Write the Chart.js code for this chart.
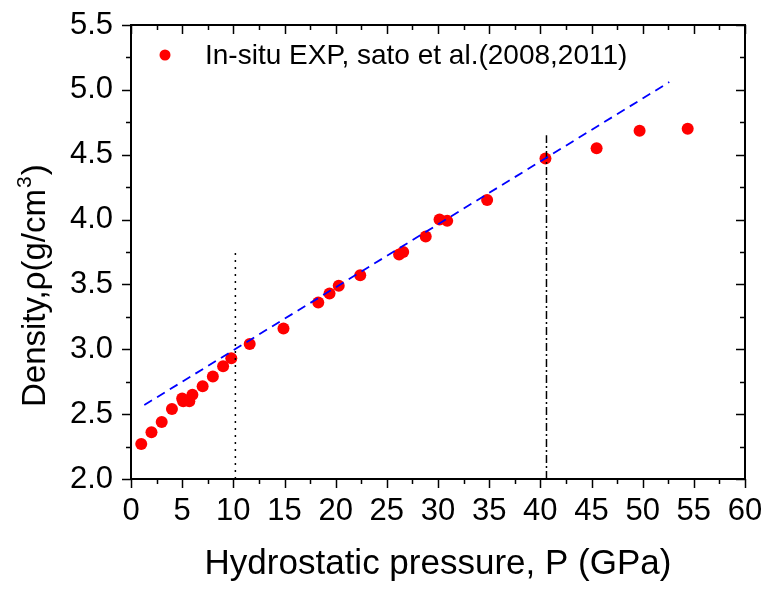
<!DOCTYPE html>
<html>
<head>
<meta charset="utf-8">
<script src="https://cdn.jsdelivr.net/npm/chart.js@4"></script>
<style>
  html, body { margin: 0; padding: 0; background: #fff; }
</style>
</head>
<body>
<canvas id="densityChart" width="764" height="590"></canvas>
<script>
// In-situ density vs hydrostatic pressure
const pressure = [1.0, 2.0, 3.0, 4.0, 5.0, 5.1, 5.7, 6.0, 7.0, 8.0, 9.0, 9.8, 11.6, 14.9,
  18.3, 19.4, 20.3, 22.4, 26.2, 26.6, 28.8, 30.15, 30.9, 34.8, 40.5, 45.5, 49.7, 54.4];
const density = [2.27, 2.36, 2.44, 2.54, 2.62, 2.60, 2.60, 2.65, 2.715, 2.79, 2.87, 2.93, 3.04, 3.16,
  3.36, 3.43, 3.49, 3.57, 3.73, 3.75, 3.87, 4.00, 3.99, 4.15, 4.47, 4.55, 4.685, 4.70];

// linear trend (blue dashed)
const fitX = [1.3, 52.6];
const fitY = [2.57, 5.06];

// vertical markers
const dotX = [10.2, 10.2];
const dotY = [2.0, 3.77];
const dashDotX = [40.6, 40.6];
const dashDotY = [2.0, 4.65];

const xTicks = [0, 5, 10, 15, 20, 25, 30, 35, 40, 45, 50, 55, 60];
const yTicks = [2.0, 2.5, 3.0, 3.5, 4.0, 4.5, 5.0, 5.5];

const toPoints = (xs, ys) => xs.map((v, i) => ({x: v, y: ys[i]}));

const FONT = "'Liberation Sans', Arial, sans-serif";

// frame, inner/outer ticks, legend and y title
const decor = {
  id: 'decor',
  afterDatasetsDraw(chart) {
    const {ctx, chartArea: a, scales: {x, y}} = chart;
    ctx.save();
    ctx.strokeStyle = '#000';
    ctx.lineWidth = 1.5;
    ctx.beginPath();
    for (let i = 0; i < xTicks.length; i++) {
      const vals = [xTicks[i]];
      if (i < xTicks.length - 1) vals.push((xTicks[i] + xTicks[i + 1]) / 2);
      vals.forEach((v, k) => {
        const px = Math.round(x.getPixelForValue(v)) + 0.5;
        const len = k === 0 ? 9 : 5;
        ctx.moveTo(px, a.bottom); ctx.lineTo(px, a.bottom + len);
        ctx.moveTo(px, a.top); ctx.lineTo(px, a.top + len);
      });
    }
    for (let i = 0; i < yTicks.length; i++) {
      const vals = [yTicks[i]];
      if (i < yTicks.length - 1) vals.push((yTicks[i] + yTicks[i + 1]) / 2);
      vals.forEach((v, k) => {
        const py = Math.round(y.getPixelForValue(v)) + 0.5;
        const len = k === 0 ? 9 : 5;
        ctx.moveTo(a.left, py); ctx.lineTo(a.left - len, py);
        ctx.moveTo(a.right, py); ctx.lineTo(a.right - len, py);
      });
    }
    ctx.stroke();
    ctx.lineWidth = 2;
    ctx.strokeRect(a.left, a.top, a.right - a.left, a.bottom - a.top);

    // legend inside the plot
    const ds = chart.data.datasets[0];
    ctx.fillStyle = ds.backgroundColor;
    ctx.beginPath();
    ctx.arc(165, 55, 5.5, 0, Math.PI * 2);
    ctx.fill();
    ctx.fillStyle = '#000';
    ctx.font = '28px ' + FONT;
    ctx.textBaseline = 'middle';
    ctx.fillText(ds.label, 205, 56);

    // y axis title with superscript
    ctx.translate(45, 407);
    ctx.rotate(-Math.PI / 2);
    ctx.textBaseline = 'alphabetic';
    ctx.font = '33px ' + FONT;
    const main = 'Density,\u03C1(g/cm';
    ctx.fillText(main, 0, 0);
    let w = ctx.measureText(main).width;
    ctx.font = '21px ' + FONT;
    ctx.fillText('3', w + 1, -14);
    w += ctx.measureText('3').width + 2;
    ctx.font = '33px ' + FONT;
    ctx.fillText(')', w, 0);
    ctx.restore();
  }
};

new Chart(document.getElementById('densityChart').getContext('2d'), {
  type: 'scatter',
  data: {
    datasets: [{
      label: 'In-situ EXP, sato et al.(2008,2011)',
      data: toPoints(pressure, density),
      backgroundColor: '#ff0000',
      borderWidth: 0,
      pointRadius: 6,
      order: 2
    }, {
      label: 'fit',
      data: toPoints(fitX, fitY),
      showLine: true,
      borderColor: '#0000ff',
      borderWidth: 1.8,
      borderDash: [9, 6],
      pointRadius: 0,
      order: 1
    }, {
      label: 'limit1',
      data: toPoints(dotX, dotY),
      showLine: true,
      borderColor: '#000',
      borderWidth: 1.5,
      borderDash: [2, 5],
      pointRadius: 0,
      order: 1
    }, {
      label: 'limit2',
      data: toPoints(dashDotX, dashDotY),
      showLine: true,
      borderColor: '#000',
      borderWidth: 1.5,
      borderDash: [8, 3, 2, 3],
      pointRadius: 0,
      order: 1
    }]
  },
  options: {
    responsive: false,
    animation: false,
    layout: { padding: { left: 0, right: 19, top: 25, bottom: 0 } },
    plugins: {
      legend: { display: false },
      tooltip: { enabled: false }
    },
    scales: {
      x: {
        min: 0, max: 60,
        grid: { display: false, drawTicks: false },
        border: { display: false },
        afterFit: s => { s.height = 111; s.paddingLeft = 0; s.paddingRight = 0; },
        afterBuildTicks: s => { s.ticks = xTicks.map(v => ({value: v})); },
        ticks: { color: '#000', font: { family: FONT, size: 31 }, padding: 14, maxRotation: 0 },
        title: {
          display: true,
          text: 'Hydrostatic pressure, P (GPa)',
          color: '#000',
          font: { family: FONT, size: 35, lineHeight: 1.2 },
          padding: { top: 0, bottom: 5 }
        }
      },
      y: {
        min: 2, max: 5.5,
        grid: { display: false, drawTicks: false },
        border: { display: false },
        afterFit: s => { s.width = 131; s.paddingTop = 0; s.paddingBottom = 0; },
        afterBuildTicks: s => { s.ticks = yTicks.map(v => ({value: v})); },
        ticks: {
          color: '#000', font: { family: FONT, size: 31 }, padding: 18,
          callback: v => v.toFixed(1)
        }
      }
    }
  },
  plugins: [decor]
});
</script>
</body>
</html>
